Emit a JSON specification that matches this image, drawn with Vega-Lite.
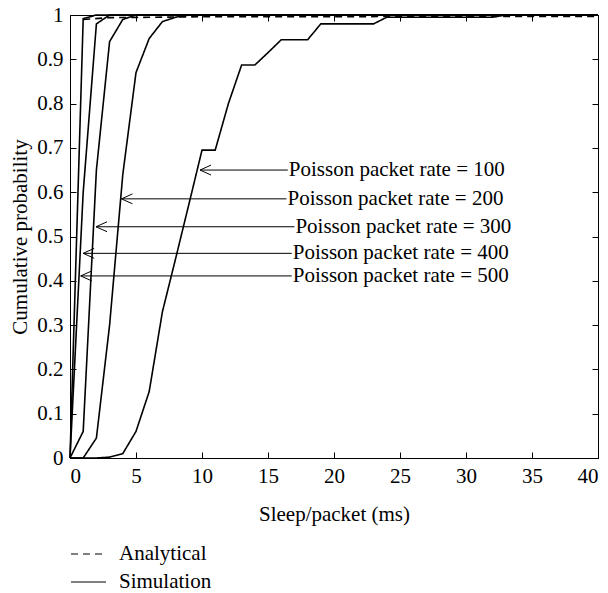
{
  "$schema": "https://vega.github.io/schema/vega-lite/v6.json",
  "width": 528,
  "height": 443,
  "autosize": {"type": "none"},
  "padding": {"left": 70, "top": 15, "right": 10, "bottom": 135},
  "background": "white",
  "config": {
    "view": {"stroke": null},
    "font": "Liberation Serif",
    "axis": {
      "labelFont": "Liberation Serif",
      "titleFont": "Liberation Serif",
      "labelFontSize": 21,
      "titleFontSize": 21,
      "titleFontWeight": "normal",
      "labelColor": "black",
      "titleColor": "black",
      "domainColor": "black",
      "tickColor": "black",
      "grid": false,
      "tickSize": -6,
      "labelPadding": 13
    },
    "legend": {
      "labelFont": "Liberation Serif",
      "labelFontSize": 21,
      "labelColor": "black",
      "symbolStrokeColor": "black"
    }
  },
  "datasets": {
    "curves": [
      {"series": "500", "type": "Simulation", "x": 0, "y": 0},
      {"series": "500", "type": "Simulation", "x": 1, "y": 0.992},
      {"series": "500", "type": "Simulation", "x": 2, "y": 1},
      {"series": "500", "type": "Simulation", "x": 40, "y": 1},
      {"series": "400", "type": "Simulation", "x": 0, "y": 0},
      {"series": "400", "type": "Simulation", "x": 1, "y": 0.6},
      {"series": "400", "type": "Simulation", "x": 2, "y": 0.98},
      {"series": "400", "type": "Simulation", "x": 3, "y": 1},
      {"series": "400", "type": "Simulation", "x": 40, "y": 1},
      {"series": "300", "type": "Simulation", "x": 0, "y": 0},
      {"series": "300", "type": "Simulation", "x": 1, "y": 0.06},
      {"series": "300", "type": "Simulation", "x": 2, "y": 0.65},
      {"series": "300", "type": "Simulation", "x": 3, "y": 0.94},
      {"series": "300", "type": "Simulation", "x": 4, "y": 0.99},
      {"series": "300", "type": "Simulation", "x": 5, "y": 1},
      {"series": "300", "type": "Simulation", "x": 40, "y": 1},
      {"series": "200", "type": "Simulation", "x": 0, "y": 0},
      {"series": "200", "type": "Simulation", "x": 1, "y": 0},
      {"series": "200", "type": "Simulation", "x": 2, "y": 0.045},
      {"series": "200", "type": "Simulation", "x": 3, "y": 0.3},
      {"series": "200", "type": "Simulation", "x": 4, "y": 0.64},
      {"series": "200", "type": "Simulation", "x": 5, "y": 0.87},
      {"series": "200", "type": "Simulation", "x": 6, "y": 0.947},
      {"series": "200", "type": "Simulation", "x": 7, "y": 0.985},
      {"series": "200", "type": "Simulation", "x": 8, "y": 0.995},
      {"series": "200", "type": "Simulation", "x": 9, "y": 1},
      {"series": "200", "type": "Simulation", "x": 40, "y": 1},
      {"series": "100", "type": "Simulation", "x": 0, "y": 0},
      {"series": "100", "type": "Simulation", "x": 1, "y": 0},
      {"series": "100", "type": "Simulation", "x": 2, "y": 0},
      {"series": "100", "type": "Simulation", "x": 3, "y": 0.002},
      {"series": "100", "type": "Simulation", "x": 4, "y": 0.01},
      {"series": "100", "type": "Simulation", "x": 5, "y": 0.06},
      {"series": "100", "type": "Simulation", "x": 6, "y": 0.15},
      {"series": "100", "type": "Simulation", "x": 7, "y": 0.33},
      {"series": "100", "type": "Simulation", "x": 8, "y": 0.45},
      {"series": "100", "type": "Simulation", "x": 9, "y": 0.572},
      {"series": "100", "type": "Simulation", "x": 10, "y": 0.695},
      {"series": "100", "type": "Simulation", "x": 11, "y": 0.695},
      {"series": "100", "type": "Simulation", "x": 12, "y": 0.8},
      {"series": "100", "type": "Simulation", "x": 13, "y": 0.887},
      {"series": "100", "type": "Simulation", "x": 14, "y": 0.887},
      {"series": "100", "type": "Simulation", "x": 15, "y": 0.915},
      {"series": "100", "type": "Simulation", "x": 16, "y": 0.944},
      {"series": "100", "type": "Simulation", "x": 17, "y": 0.944},
      {"series": "100", "type": "Simulation", "x": 18, "y": 0.944},
      {"series": "100", "type": "Simulation", "x": 19, "y": 0.98},
      {"series": "100", "type": "Simulation", "x": 20, "y": 0.98},
      {"series": "100", "type": "Simulation", "x": 21, "y": 0.98},
      {"series": "100", "type": "Simulation", "x": 22, "y": 0.98},
      {"series": "100", "type": "Simulation", "x": 23, "y": 0.98},
      {"series": "100", "type": "Simulation", "x": 24, "y": 0.995},
      {"series": "100", "type": "Simulation", "x": 28, "y": 0.995},
      {"series": "100", "type": "Simulation", "x": 32, "y": 0.995},
      {"series": "100", "type": "Simulation", "x": 33, "y": 1},
      {"series": "100", "type": "Simulation", "x": 40, "y": 1},
      {"series": "A", "type": "Analytical", "x": 1, "y": 0.99},
      {"series": "A", "type": "Analytical", "x": 3, "y": 0.994},
      {"series": "A", "type": "Analytical", "x": 10, "y": 0.996},
      {"series": "A", "type": "Analytical", "x": 40, "y": 0.997}
    ],
    "notes": [
      {"label": "Poisson packet rate = 100", "tip": 9.85, "start": 16.5, "y": 0.65},
      {"label": "Poisson packet rate = 200", "tip": 3.9, "start": 16.4, "y": 0.585},
      {"label": "Poisson packet rate = 300", "tip": 1.97, "start": 17.0, "y": 0.522},
      {"label": "Poisson packet rate = 400", "tip": 1.0, "start": 16.8, "y": 0.462},
      {"label": "Poisson packet rate = 500", "tip": 0.81, "start": 16.8, "y": 0.411}
    ]
  },
  "layer": [
    {
      "data": {"name": "curves"},
      "mark": {"type": "line", "color": "black", "strokeWidth": 1.6},
      "encoding": {
        "x": {"field": "x", "type": "quantitative", "scale": {"domain": [0, 40], "nice": false, "zero": false},
              "axis": {"title": "Sleep/packet (ms)", "values": [0, 5, 10, 15, 20, 25, 30, 35, 40], "format": "~g", "titlePadding": 17}},
        "y": {"field": "y", "type": "quantitative", "scale": {"domain": [0, 1], "nice": false},
              "axis": {"title": "Cumulative probability", "values": [0, 0.1, 0.2, 0.3, 0.4, 0.5, 0.6, 0.7, 0.8, 0.9, 1], "format": "~g", "labelPadding": 13, "titlePadding": 6}},
        "detail": {"field": "series"},
        "strokeDash": {"field": "type", "type": "nominal",
          "scale": {"domain": ["Analytical", "Simulation"], "range": [[7, 5], [1, 0]]},
          "legend": {"title": null, "orient": "none", "legendX": 0, "legendY": 526, "symbolType": "stroke", "symbolSize": 1225, "symbolStrokeWidth": 1.2, "clipHeight": 26, "labelOffset": 12}}
      }
    },
    {
      "data": {"name": "notes"},
      "mark": {"type": "rule", "color": "black", "strokeWidth": 1},
      "encoding": {
        "x": {"field": "tip", "type": "quantitative", "axis": {"orient": "top", "labels": false, "title": null, "values": [0, 5, 10, 15, 20, 25, 30, 35, 40]}},
        "x2": {"field": "start"},
        "y": {"field": "y", "type": "quantitative", "axis": {"orient": "right", "labels": false, "title": null, "values": [0, 0.1, 0.2, 0.3, 0.4, 0.5, 0.6, 0.7, 0.8, 0.9, 1]}}
      }
    },
    {
      "data": {"name": "notes"},
      "mark": {"type": "point", "shape": "M 1 -0.45 L 0 0 L 1 0.45", "filled": false, "stroke": "black", "strokeWidth": 1, "size": 484, "opacity": 1},
      "encoding": {
        "x": {"field": "tip", "type": "quantitative", "axis": null},
        "y": {"field": "y", "type": "quantitative", "axis": null}
      }
    },
    {
      "data": {"name": "notes"},
      "mark": {"type": "text", "align": "left", "baseline": "middle", "font": "Liberation Serif", "fontSize": 21, "color": "black", "dx": 1},
      "encoding": {
        "x": {"field": "start", "type": "quantitative", "axis": null},
        "y": {"field": "y", "type": "quantitative", "axis": null},
        "text": {"field": "label"}
      }
    }
  ],
  "resolve": {"axis": {"x": "independent", "y": "independent"}}
}
